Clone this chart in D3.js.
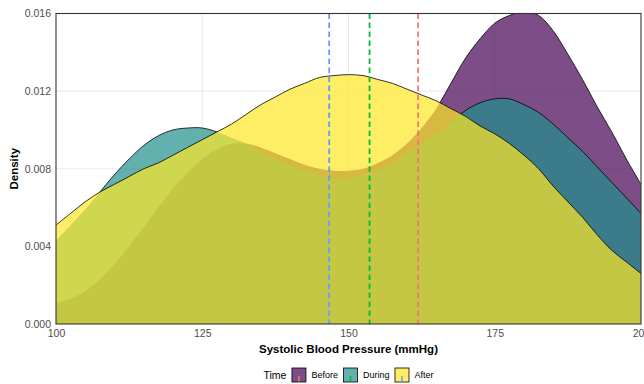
<!DOCTYPE html>
<html>
<head>
<meta charset="utf-8">
<script src="https://cdn.jsdelivr.net/npm/d3@7"></script>
<style>
  body { margin: 0; background: #fff; }
  svg { display: block; font-family: "Liberation Sans", Arial, Helvetica, sans-serif; }
</style>
</head>
<body>
<svg id="chart" width="644" height="384"></svg>
<script>
// Kernel density estimates of systolic blood pressure, by measurement time
const groups = ["Before", "During", "After"];
const fillColors = ["#440154", "#21908C", "#FDE725"];
const meanColors = ["#F8766D", "#00BA38", "#619CFF"];

const sbpGrid = [100, 102.5, 105, 107.5, 110, 112.5, 115, 117.5, 120, 122.5,
                 125, 127.5, 130, 132.5, 135, 137.5, 140, 142.5, 145, 147.5,
                 150, 152.5, 155, 157.5, 160, 162.5, 165, 167.5, 170, 172.5,
                 175, 177.5, 180, 182.5, 185, 187.5, 190, 192.5, 195, 197.5, 200];

const densityBefore = [0.0011, 0.0013, 0.0017, 0.0023, 0.0031, 0.0040, 0.0050, 0.0060, 0.0070, 0.0078,
                       0.0085, 0.0090, 0.0093, 0.0093, 0.0091, 0.0088, 0.0085, 0.0082, 0.0080, 0.0079,
                       0.0079, 0.0080, 0.0083, 0.0087, 0.0093, 0.0101, 0.0111, 0.0124, 0.0137, 0.0147,
                       0.0155, 0.0159, 0.0161, 0.0159, 0.0151, 0.0139, 0.0126, 0.0112, 0.0099, 0.0085, 0.0072];

const densityDuring = [0.0043, 0.0051, 0.0059, 0.0068, 0.0077, 0.0085, 0.0092, 0.0097, 0.0100, 0.0101,
                       0.0101, 0.0099, 0.0096, 0.0093, 0.0089, 0.0085, 0.0082, 0.0079, 0.0077, 0.0075,
                       0.0075, 0.0077, 0.0079, 0.0083, 0.0088, 0.0093, 0.0098, 0.0104, 0.0110, 0.0114,
                       0.0116, 0.0116, 0.0113, 0.0109, 0.0103, 0.0096, 0.0089, 0.0081, 0.0073, 0.0065, 0.0057];

const densityAfter = [0.0051, 0.0057, 0.0063, 0.0068, 0.0072, 0.0076, 0.0080, 0.0083, 0.0087, 0.0091,
                      0.0095, 0.0099, 0.0103, 0.0108, 0.0113, 0.0117, 0.0121, 0.0124, 0.0127, 0.0128,
                      0.01285, 0.0128, 0.0126, 0.0124, 0.0121, 0.0118, 0.0115, 0.0111, 0.0107, 0.0102,
                      0.0098, 0.0093, 0.0087, 0.0080, 0.0071, 0.0063, 0.0055, 0.0046, 0.0038, 0.0032, 0.0026];

// Group means (dashed reference lines)
const groupMeans = [161.9, 153.6, 146.7];

const xTicks = [100, 125, 150, 175, 200];
const yTicks = [0, 0.004, 0.008, 0.012, 0.016];

const series = [densityBefore, densityDuring, densityAfter].map((vals, i) => ({
  name: groups[i],
  fill: fillColors[i],
  mean: groupMeans[i],
  meanColor: meanColors[i],
  points: sbpGrid.map((x, k) => ({ x, y: vals[k] }))
}));

const svg = d3.select("#chart");
const panel = { left: 56, right: 641, top: 13.5, bottom: 324 };

const x = d3.scaleLinear().domain([100, 200]).range([panel.left, panel.right]);
const y = d3.scaleLinear().domain([0, 0.016]).range([panel.bottom, panel.top]);

const defs = svg.append("defs");
defs.append("clipPath").attr("id", "panel-clip")
  .append("rect")
  .attr("x", panel.left).attr("y", panel.top)
  .attr("width", panel.right - panel.left).attr("height", panel.bottom - panel.top);

// Grid lines
const grid = svg.append("g");
grid.selectAll("line.gx").data(xTicks.slice(1, -1)).join("line")
  .attr("x1", d => x(d)).attr("x2", d => x(d))
  .attr("y1", panel.top).attr("y2", panel.bottom)
  .attr("stroke", "#e6e6e6").attr("stroke-width", 0.8);
grid.selectAll("line.gy").data(yTicks.slice(1, -1)).join("line")
  .attr("x1", panel.left).attr("x2", panel.right)
  .attr("y1", d => y(d)).attr("y2", d => y(d))
  .attr("stroke", "#e6e6e6").attr("stroke-width", 0.8);

const curve = d3.curveCatmullRom.alpha(0.5);
const area = d3.area()
  .x(d => x(d.x)).y0(y(0)).y1(d => y(d.y))
  .curve(curve);
const line = d3.line()
  .x(d => x(d.x)).y(d => y(d.y))
  .curve(curve);

// Each outline is hidden beneath the fills of the groups drawn after it
series.forEach((s, i) => {
  const m = defs.append("mask").attr("id", "mask-" + i)
    .attr("maskUnits", "userSpaceOnUse")
    .attr("x", 0).attr("y", 0).attr("width", 644).attr("height", 384);
  m.append("rect").attr("x", 0).attr("y", 0).attr("width", 644).attr("height", 384).attr("fill", "#fff");
  series.slice(i + 1).forEach(t => {
    m.append("path").attr("d", area(t.points)).attr("fill", "#000");
  });
});

const plot = svg.append("g").attr("clip-path", "url(#panel-clip)");
series.forEach((s, i) => {
  const g = plot.append("g");
  g.append("path")
    .attr("d", area(s.points))
    .attr("fill", s.fill)
    .attr("fill-opacity", 0.7);
  g.append("path")
    .attr("d", line(s.points))
    .attr("fill", "none")
    .attr("stroke", "#000")
    .attr("stroke-width", 0.8)
    .attr("mask", "url(#mask-" + i + ")");
});

// Mean lines
plot.selectAll("line.mean").data(series).join("line")
  .attr("x1", d => x(d.mean)).attr("x2", d => x(d.mean))
  .attr("y1", panel.top).attr("y2", panel.bottom)
  .attr("stroke", d => d.meanColor)
  .attr("stroke-width", 1.8)
  .attr("stroke-dasharray", "5.5,3.5");

// Panel border
svg.append("rect")
  .attr("x", panel.left).attr("y", panel.top)
  .attr("width", panel.right - panel.left).attr("height", panel.bottom - panel.top)
  .attr("fill", "none").attr("stroke", "#333").attr("stroke-width", 1.1);

// Axes
const yAxis = svg.append("g")
  .attr("transform", `translate(${panel.left},0)`)
  .call(d3.axisLeft(y).tickValues(yTicks).tickFormat(d3.format(".3f")).tickSize(0).tickPadding(5));
const xAxis = svg.append("g")
  .attr("transform", `translate(0,${panel.bottom})`)
  .call(d3.axisBottom(x).tickValues(xTicks).tickFormat(d3.format("d")).tickSize(0).tickPadding(6));
[xAxis, yAxis].forEach(a => {
  a.select(".domain").remove();
  a.selectAll("text")
    .attr("fill", "#4d4d4d")
    .style("font-size", "10.5px")
    .style("font-family", "'Liberation Sans', Arial, sans-serif");
});

// Axis titles
svg.append("text")
  .attr("x", (panel.left + panel.right) / 2).attr("y", 353)
  .attr("text-anchor", "middle")
  .style("font-size", "11.5px").style("font-weight", "bold")
  .attr("fill", "#000")
  .text("Systolic Blood Pressure (mmHg)");
svg.append("text")
  .attr("transform", `translate(18,${(panel.top + panel.bottom) / 2}) rotate(-90)`)
  .attr("text-anchor", "middle")
  .style("font-size", "11.5px").style("font-weight", "bold")
  .attr("fill", "#000")
  .text("Density");

// Legend
const legend = svg.append("g");
const keySize = 14, gap = 5.5, legendY = 375;
const title = legend.append("text")
  .attr("y", legendY).attr("dy", "0.35em")
  .style("font-size", "10.5px").attr("fill", "#000")
  .text("Time");
let cursor = title.node().getComputedTextLength() + gap;
series.forEach(s => {
  const k = legend.append("g").attr("transform", `translate(${cursor},${legendY - keySize / 2})`);
  k.append("rect").attr("width", keySize).attr("height", keySize)
    .attr("fill", s.fill).attr("fill-opacity", 0.7)
    .attr("stroke", "#000").attr("stroke-width", 0.8);
  k.append("line")
    .attr("x1", keySize / 2).attr("x2", keySize / 2)
    .attr("y1", keySize / 2 + 1).attr("y2", keySize - 0.5)
    .attr("stroke", s.meanColor).attr("stroke-width", 1.5);
  cursor += keySize + gap;
  const t = legend.append("text")
    .attr("x", cursor).attr("y", legendY).attr("dy", "0.35em")
    .style("font-size", "9px").attr("fill", "#000")
    .text(s.name);
  cursor += t.node().getComputedTextLength() + gap;
});
const legendWidth = cursor - gap;
legend.attr("transform", `translate(${(panel.left + panel.right) / 2 - legendWidth / 2},0)`);
</script>
</body>
</html>
